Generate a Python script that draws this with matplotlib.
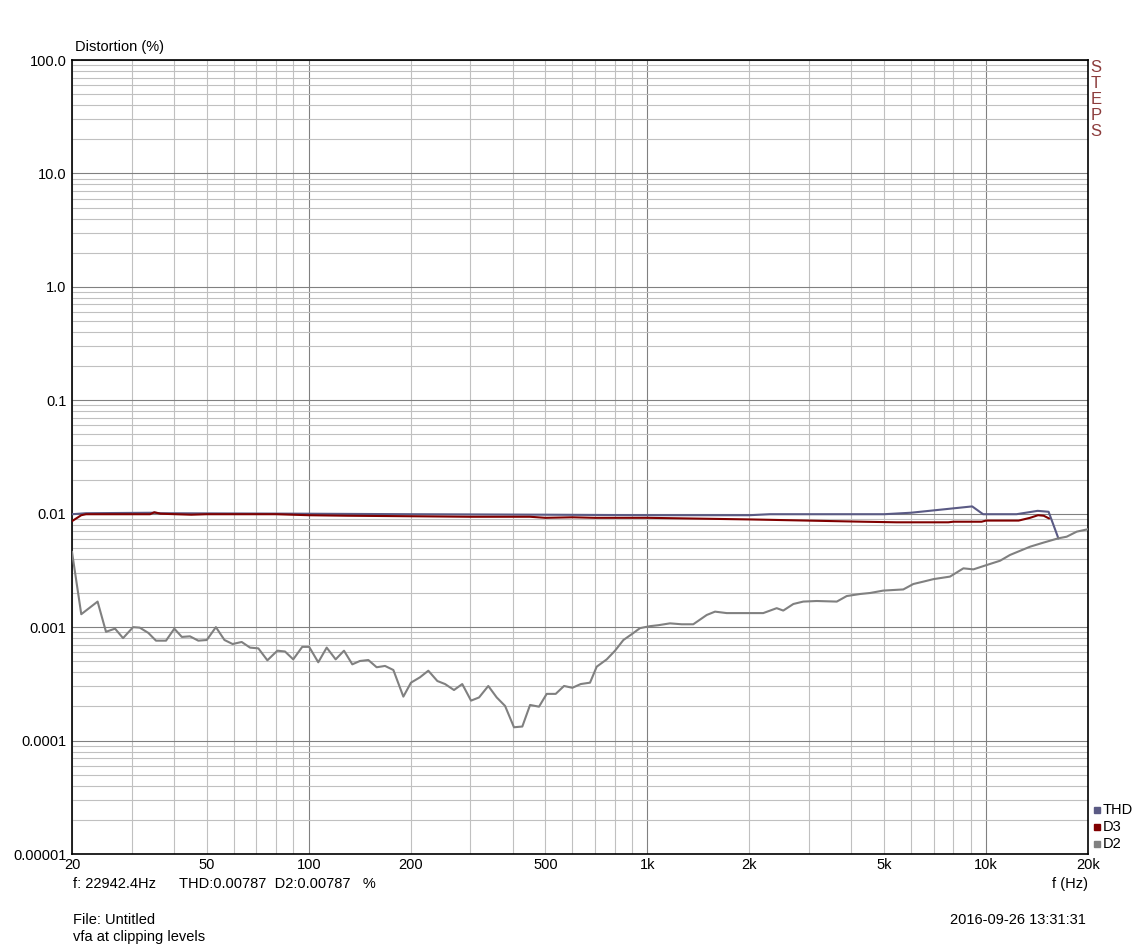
import numpy as np
import matplotlib
matplotlib.use("Agg")
from matplotlib import pyplot as plt
from matplotlib.ticker import LogLocator, NullFormatter, FixedLocator

plt.rcParams['font.family'] = ['Liberation Sans', 'DejaVu Sans']

# --- data ---
x_ticks = [20, 50, 100, 200, 500, 1000, 2000, 5000, 10000, 20000]
x_tick_labels = ['20', '50', '100', '200', '500', '1k', '2k', '5k', '10k', '20k']
y_ticks = [1e-5, 1e-4, 1e-3, 1e-2, 1e-1, 1, 10, 100]
y_tick_labels = ['0.00001', '0.0001', '0.001', '0.01', '0.1', '1.0', '10.0', '100.0']

d2_freq = [20, 21.3, 23.8, 25.2, 26.8, 28.3, 30.3, 31.7, 33.6, 35.4, 37.9, 40.1,
           42.2, 44.6, 47.2, 50.0, 53.2, 56.4, 59.6, 63.4, 67.1, 71.0, 75.5, 80.8,
           85.1, 90.0, 95.7, 100.3, 106.7, 113, 120.1, 127.1, 134.5, 141.6, 150,
           158.7, 168, 177.8, 190.3, 200.4, 213, 225.5, 239.8, 252.7, 268.5, 284,
           301.5, 318.4, 339, 359, 380, 403.7, 427.3, 450.4, 478.6, 504.3, 536.1,
           567.4, 600.4, 635.6, 677.1, 708.5, 758.6, 802.5, 849.5, 898.9, 951,
           1018, 1077, 1166, 1262, 1366, 1497, 1584, 1715, 2198, 2409, 2519, 2698,
           2886, 3162, 3625, 3878, 4247, 4543, 4970, 5697, 6099, 6531, 6990, 7827,
           8573, 9172, 10046, 11000, 11770, 13490, 14770, 16350, 17300, 18530, 20000]
d2_vals = [0.0046, 0.0013, 0.00168, 0.00091, 0.00097, 0.0008, 0.001, 0.00099,
           0.00089, 0.00076, 0.00076, 0.00097, 0.00082, 0.00083, 0.00076, 0.00077,
           0.001, 0.00077, 0.00071, 0.00074, 0.00066, 0.00065, 0.00051, 0.00062,
           0.00061, 0.00052, 0.00067, 0.00067, 0.00049, 0.00066, 0.00052, 0.00062,
           0.00047, 0.000503, 0.000513, 0.000443, 0.000455, 0.000419, 0.000244,
           0.000324, 0.000361, 0.000413, 0.000335, 0.000315, 0.000279, 0.000315,
           0.000225, 0.00024, 0.000303, 0.00024, 0.000202, 0.000131, 0.000133,
           0.000206, 0.000199, 0.000258, 0.000258, 0.000303, 0.000292, 0.000315,
           0.000324, 0.000448, 0.00052, 0.00062, 0.00077, 0.000866, 0.00098,
           0.00102, 0.00104, 0.00108, 0.00106, 0.00106, 0.00128, 0.00137, 0.00133,
           0.00133, 0.00147, 0.0014, 0.0016, 0.00168, 0.0017, 0.00168, 0.00188,
           0.00196, 0.002, 0.0021, 0.00215, 0.0024, 0.00252, 0.00265, 0.00279,
           0.0033, 0.00323, 0.00353, 0.00385, 0.00433, 0.00512, 0.00556, 0.00607,
           0.00627, 0.00695, 0.0073]

thd_freq = [20, 22, 35, 36.5, 100, 200, 500, 1000, 2000, 2300, 5000, 6000,
            9100, 9800, 12300, 14200, 15300, 16350]
thd_vals = [0.0099, 0.0101, 0.0102, 0.0101, 0.0100, 0.0099, 0.0098, 0.0097,
            0.0097, 0.0099, 0.0099, 0.0102, 0.0116, 0.0099, 0.0099, 0.0106,
            0.0104, 0.00607]

d3_freq = [20, 21.3, 22, 34, 35, 36.5, 45, 50, 80, 100, 130, 200, 300, 450, 500,
           600, 700, 1000, 2030, 4340, 5440, 7740, 8000, 9700, 10000, 12480,
           13490, 14240, 14800, 15330]
d3_vals = [0.0086, 0.0097, 0.0099, 0.0099, 0.0103, 0.0100, 0.0098, 0.0099,
           0.0099, 0.0097, 0.0096, 0.0095, 0.0094, 0.0094, 0.0092, 0.0093,
           0.0092, 0.0092, 0.0089, 0.0085, 0.0084, 0.0084, 0.0085, 0.0085,
           0.0087, 0.0087, 0.0092, 0.0097, 0.0096, 0.0091]

series = [('THD', '#5a5a84'), ('D3', '#800000'), ('D2', '#808080')]

W, H = 1148, 950
fig = plt.figure(figsize=(W / 100, H / 100), dpi=100)
left, right, top, bottom = 72, 1088, 60, 854
ax = fig.add_axes([left / W, 1 - bottom / H, (right - left) / W, (bottom - top) / H])

ax.set_xscale('log')
ax.set_yscale('log')
ax.set_xlim(20, 20000)
ax.set_ylim(1e-5, 100)

# grid: light minor lines, darker decade lines
ax.xaxis.set_minor_locator(LogLocator(base=10, subs=np.arange(2, 10)))
ax.yaxis.set_minor_locator(LogLocator(base=10, subs=np.arange(2, 10), numticks=20))
ax.xaxis.set_major_locator(FixedLocator([100, 1000, 10000]))
ax.yaxis.set_major_locator(FixedLocator(y_ticks))
ax.grid(which='minor', color='#c0c0c0', linewidth=0.8)
ax.grid(which='major', color='#808080', linewidth=0.8)
ax.xaxis.set_minor_formatter(NullFormatter())
ax.yaxis.set_minor_formatter(NullFormatter())
ax.set_xticklabels([])
ax.tick_params(which='both', length=0)
ax.set_yticklabels(y_tick_labels, fontsize=10.5)
ax.tick_params(axis='y', pad=4)
for sp in ax.spines.values():
    sp.set_color('black')
    sp.set_linewidth(1.2)

ax.plot(thd_freq, thd_vals, color=series[0][1], lw=1.5, zorder=3)
ax.plot(d3_freq, d3_vals, color=series[1][1], lw=1.5, zorder=4)
ax.plot(d2_freq, d2_vals, color=series[2][1], lw=1.5, zorder=5)

# x labels drawn under the frame
for f, lab in zip(x_ticks, x_tick_labels):
    ax.annotate(lab, xy=(f, 0), xycoords=('data', 'axes fraction'),
                xytext=(0, -4), textcoords='offset pixels',
                ha='center', va='top', fontsize=10.5, annotation_clip=False)

def px(x, y):
    return x / W, 1 - y / H

fig.text(*px(75, 47), 'Distortion (%)', fontsize=10.5, va='center', ha='left')
fig.text(*px(1070, 884), 'f (Hz)', fontsize=10.5, va='center', ha='center')
fig.text(*px(73, 884), 'f: 22942.4Hz', fontsize=10.5, va='center', ha='left')
fig.text(*px(179, 884), 'THD:0.00787  D2:0.00787   %', fontsize=10.5, va='center', ha='left')
fig.text(*px(73, 920), 'File: Untitled', fontsize=10.5, va='center', ha='left')
fig.text(*px(73, 937), 'vfa at clipping levels', fontsize=10.5, va='center', ha='left')
fig.text(*px(1086, 920), '2016-09-26 13:31:31', fontsize=10.5, va='center', ha='right')

for i, ch in enumerate('STEPS'):
    fig.text(*px(1096, 68 + i * 16), ch, fontsize=12, color='#8c3c3c',
             va='center', ha='center')

for i, (name, col) in enumerate(series):
    y = 810 + i * 17
    fig.patches.append(plt.Rectangle(px(1094, y + 3), 6 / W, 6 / H,
                                     transform=fig.transFigure, color=col))
    fig.text(*px(1103, y), name, fontsize=10.5, va='center', ha='left')

fig.savefig('out.png', dpi=100)
